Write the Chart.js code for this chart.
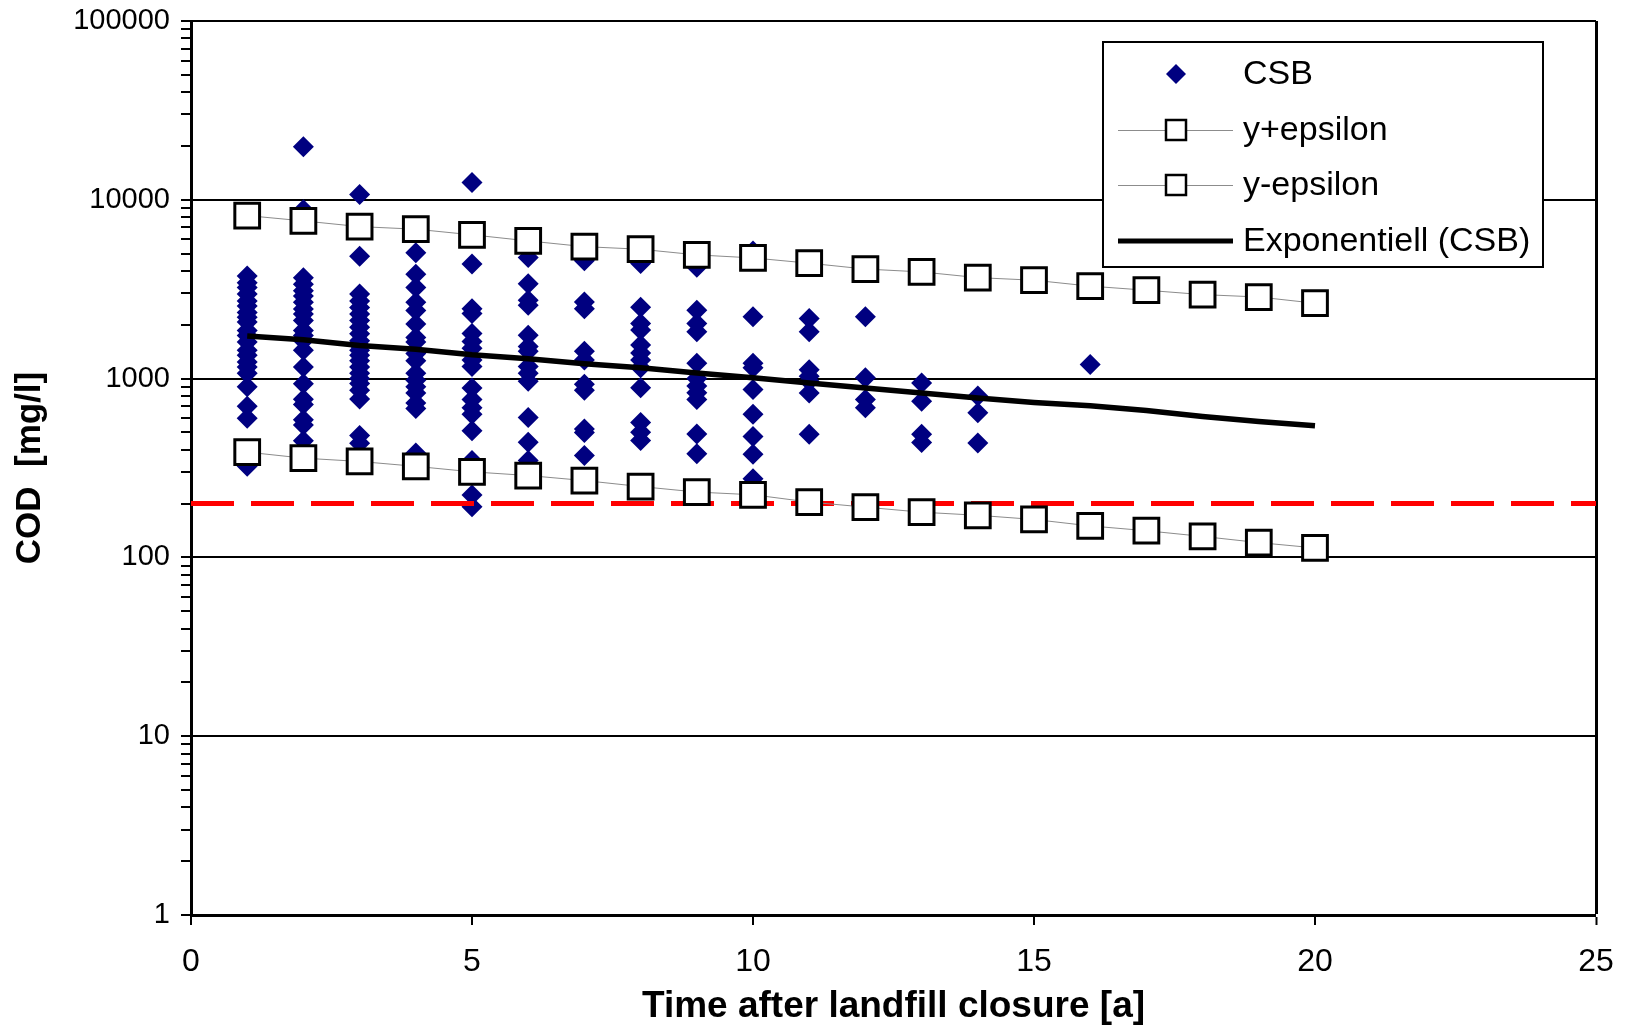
<!DOCTYPE html>
<html>
<head>
<meta charset="utf-8">
<script src="https://cdn.jsdelivr.net/npm/chart.js@4.4.1/dist/chart.umd.min.js"></script>
<style>
html,body{margin:0;padding:0;background:#fff;}
#wrap{width:1627px;height:1027px;position:relative;}
</style>
</head>
<body>
<div id="wrap"><canvas id="c" width="1627" height="1027"></canvas></div>
<script>
// ---- data ----
const csbYears = [1, 2, 3, 4, 5, 6, 7, 8, 9, 10, 11, 12, 13, 14, 16];
const csbValues = [
  [3750, 3440, 3230, 2970, 2720, 2550, 2340, 2200, 2070, 1860, 1740, 1600, 1440, 1350, 1240, 1160, 1070, 900, 700, 600, 323],
  [19800, 8800, 3670, 3370, 3100, 2900, 2670, 2450, 2300, 2110, 1860, 1740, 1630, 1440, 1160, 936, 766, 716, 589, 550, 449],
  [10700, 4840, 2970, 2720, 2500, 2300, 2110, 1940, 1780, 1630, 1530, 1440, 1350, 1260, 1160, 1070, 1000, 940, 860, 770, 480, 435],
  [5060, 3830, 3230, 2670, 2400, 2020, 1700, 1600, 1380, 1260, 1070, 980, 900, 830, 730, 680, 383],
  [12500, 4370, 2460, 2310, 1790, 1610, 1480, 1270, 1170, 887, 765, 688, 632, 511, 348, 223, 192],
  [4750, 3390, 2740, 2570, 1750, 1510, 1420, 1170, 1070, 966, 605, 441, 348],
  [4560, 2680, 2460, 1420, 1270, 930, 860, 523, 500, 372],
  [4400, 2510, 2030, 1870, 1540, 1390, 1270, 1150, 888, 569, 501, 450],
  [4190, 2410, 2030, 1830, 1220, 1000, 908, 834, 765, 490, 380],
  [5180, 2220, 1220, 1150, 868, 631, 474, 378, 275],
  [2170, 1830, 1120, 1030, 966, 832, 489],
  [2220, 1010, 764, 687],
  [946, 748, 489, 439],
  [798, 644, 436],
  [1200]
];
const epsYears = [1, 2, 3, 4, 5, 6, 7, 8, 9, 10, 11, 12, 13, 14, 15, 16, 17, 18, 19, 20];
const yPlusEpsilon = [8160, 7620, 7080, 6850, 6370, 5890, 5470, 5290, 4920, 4730, 4420, 4100, 3950, 3670, 3550, 3290, 3120, 2950, 2860, 2640];
const yMinusEpsilon = [388, 359, 344, 323, 301, 287, 269, 249, 232, 224, 204, 191, 179, 172, 163, 150, 141, 131, 121, 113];
const trendCSB = [1730, 1650, 1530, 1460, 1360, 1290, 1210, 1150, 1075, 1010, 944, 885, 830, 778, 736, 705, 664, 614, 576, 545];
const limitX = [0, 25];
const limitValue = 200;
const yDecades = [1, 10, 100, 1000, 10000, 100000];
const yMinorSteps = [1, 2, 3, 4, 5, 6, 7, 8, 9];
const yTickLabels = ['1', '10', '100', '1000', '10000', '100000'];
const xTickLabels = ['0', '5', '10', '15', '20', '25'];
const legendLabels = ['CSB', 'y+epsilon', 'y-epsilon', 'Exponentiell (CSB)'];

// ---- build library structures ----
const csbPoints = [];
csbYears.forEach((yr, i) => csbValues[i].forEach(v => csbPoints.push({x: yr, y: v})));
const toPts = (xs, ys) => xs.map((x, i) => ({x: x, y: ys[i]}));
const yTickValues = [];
yDecades.forEach(d => {
  if (d === 100000) { yTickValues.push(d); return; }
  yMinorSteps.forEach(m => yTickValues.push(d * m));
});
const isDecade = v => yDecades.indexOf(v) >= 0;

const FONT = "'Liberation Sans', Arial, Helvetica, sans-serif";

const whiteBg = {
  id: 'whiteBg',
  beforeDraw(chart) {
    const c = chart.ctx;
    c.save(); c.fillStyle = '#fff'; c.fillRect(0, 0, chart.width, chart.height); c.restore();
  }
};

const boxLegend = {
  id: 'boxLegend',
  afterDraw(chart) {
    const c = chart.ctx;
    const L = 1103, T = 42, R = 1543, B = 267;
    c.save();
    c.fillStyle = '#fff';
    c.fillRect(L, T, R - L, B - T);
    c.strokeStyle = '#000';
    c.lineWidth = 2;
    c.strokeRect(L, T, R - L, B - T);
    const rows = [74, 130, 185, 241];
    const sx = 1176, lx1 = 1118, lx2 = 1233, tx = 1243;
    // CSB diamond
    c.fillStyle = '#000080';
    c.beginPath();
    c.moveTo(sx - 10, rows[0]); c.lineTo(sx, rows[0] - 10); c.lineTo(sx + 10, rows[0]); c.lineTo(sx, rows[0] + 10);
    c.closePath(); c.fill();
    // epsilon lines with squares
    [rows[1], rows[2]].forEach(y => {
      c.strokeStyle = '#8c8c8c'; c.lineWidth = 1;
      c.beginPath(); c.moveTo(lx1, y + 0.5); c.lineTo(lx2, y + 0.5); c.stroke();
      c.fillStyle = '#fff'; c.fillRect(sx - 10, y - 10, 20, 20);
      c.strokeStyle = '#000'; c.lineWidth = 2.5; c.strokeRect(sx - 10, y - 10, 20, 20);
    });
    // trend line
    c.strokeStyle = '#000'; c.lineWidth = 5;
    c.beginPath(); c.moveTo(lx1, rows[3]); c.lineTo(lx2, rows[3]); c.stroke();
    // text
    c.fillStyle = '#000';
    c.font = '34px ' + FONT;
    c.textBaseline = 'middle';
    c.textAlign = 'left';
    legendLabels.forEach((t, i) => c.fillText(t, tx, rows[i] + 1));
    c.restore();
  }
};

function zeroPad(scale) {
  scale.paddingTop = 0; scale.paddingBottom = 0;
  scale.paddingLeft = 0; scale.paddingRight = 0;
}

new Chart(document.getElementById('c'), {
  type: 'scatter',
  data: {
    datasets: [
      {
        label: legendLabels[1],
        data: toPts(epsYears, yPlusEpsilon),
        showLine: true,
        borderColor: '#8c8c8c',
        borderWidth: 1,
        pointStyle: 'rect',
        pointRadius: 17.5,
        pointBackgroundColor: '#fff',
        pointBorderColor: '#000',
        pointBorderWidth: 3,
        order: 0
      },
      {
        label: legendLabels[2],
        data: toPts(epsYears, yMinusEpsilon),
        showLine: true,
        borderColor: '#8c8c8c',
        borderWidth: 1,
        pointStyle: 'rect',
        pointRadius: 17.5,
        pointBackgroundColor: '#fff',
        pointBorderColor: '#000',
        pointBorderWidth: 3,
        order: 0
      },
      {
        label: 'limit',
        data: toPts(limitX, [limitValue, limitValue]),
        showLine: true,
        borderColor: '#ff0000',
        borderWidth: 5,
        borderDash: [43, 17],
        pointRadius: 0,
        order: 1
      },
      {
        label: legendLabels[3],
        data: toPts(epsYears, trendCSB),
        showLine: true,
        borderColor: '#000',
        borderWidth: 5.5,
        pointRadius: 0,
        order: 2
      },
      {
        label: legendLabels[0],
        data: csbPoints,
        showLine: false,
        pointStyle: 'rectRot',
        pointRadius: 10.5,
        pointBackgroundColor: '#000080',
        pointBorderColor: '#000080',
        pointBorderWidth: 0,
        order: 3
      }
    ]
  },
  options: {
    responsive: false,
    animation: false,
    events: [],
    layout: {padding: {left: 0, top: 21, right: 31, bottom: 0}},
    plugins: {
      legend: {display: false},
      tooltip: {enabled: false}
    },
    scales: {
      x: {
        type: 'linear',
        min: 0,
        max: 25,
        afterFit(scale) { scale.height = 112; zeroPad(scale); },
        ticks: {
          stepSize: 5,
          color: '#000',
          padding: 18,
          maxRotation: 0,
          font: {family: FONT, size: 32},
          callback: (v) => xTickLabels.indexOf(String(v)) >= 0 ? String(v) : ''
        },
        grid: {
          color: '#000',
          lineWidth: (ctx) => (ctx.tick && ctx.tick.value === 25) ? 3 : 0,
          tickColor: '#000',
          tickWidth: 2,
          tickLength: 10
        },
        border: {display: true, color: '#000', width: 3},
        title: {
          display: true,
          text: 'Time after landfill closure [a]',
          color: '#000',
          font: {family: FONT, size: 37, weight: 'bold', lineHeight: 1.1},
          padding: {top: 0, bottom: 0}
        }
      },
      y: {
        type: 'logarithmic',
        min: 1,
        max: 100000,
        afterFit(scale) { scale.width = 191; zeroPad(scale); },
        afterBuildTicks(scale) { scale.ticks = yTickValues.map(v => ({value: v})); },
        ticks: {
          autoSkip: false,
          color: '#000',
          padding: 11,
          font: {family: FONT, size: 29},
          callback: (v) => yTickLabels.indexOf(String(v)) >= 0 ? String(v) : ''
        },
        grid: {
          color: '#000',
          lineWidth: (ctx) => (ctx.tick && isDecade(ctx.tick.value)) ? 2 : 0,
          tickColor: '#000',
          tickWidth: 2,
          tickLength: 10
        },
        border: {display: true, color: '#000', width: 3},
        title: {
          display: true,
          text: 'COD  [mg/l]',
          color: '#000',
          font: {family: FONT, size: 35, weight: 'bold', lineHeight: 1.2},
          padding: {top: 9, bottom: 0}
        }
      }
    }
  },
  plugins: [whiteBg, boxLegend]
});
</script>
</body>
</html>
